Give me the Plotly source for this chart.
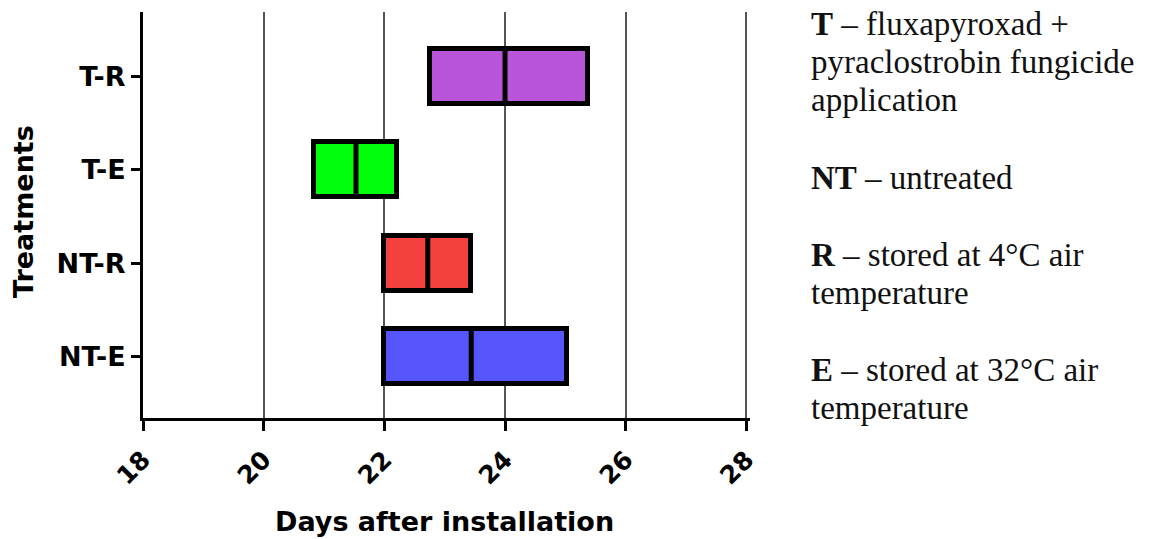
import plotly.graph_objects as go

# ---- data ----
treatments = ["NT-E", "NT-R", "T-E", "T-R"]          # bottom to top
start_day = [22.0, 22.0, 20.84, 22.75]
end_day = [25.02, 23.43, 22.21, 25.37]
median_day = [23.44, 22.72, 21.53, 24.0]
bar_colors = ["#5555F9", "#F64141", "#00FF0A", "#B955D8"]
x_ticks = [18, 20, 22, 24, 26, 28]
x_tick_labels = ["18", "20", "22", "24", "26", "28"]

notes = [
    ("<b>T</b> – fluxapyroxad +", 24),
    ("pyraclostrobin fungicide", 62),
    ("application", 100),
    ("<b>NT</b> – untreated", 178),
    ("<b>R</b> – stored at 4°C air", 255),
    ("temperature", 293),
    ("<b>E</b> – stored at 32°C air", 370),
    ("temperature", 408),
]

W, H = 1154, 539
L, R, T, B = 143, 404, 12, 539 - 418
PW, PH = W - L - R, H - T - B

def px_to_paper_x(px):
    return (px - L) / PW

def px_to_paper_y(py):
    return (H - B - py) / PH

sans = "DejaVu Sans"
fig = go.Figure()

fig.add_trace(go.Bar(
    y=treatments,
    x=[e - s for s, e in zip(start_day, end_day)],
    base=start_day,
    orientation="h",
    width=0.59,
    marker=dict(color=bar_colors, line=dict(color="black", width=5)),
    showlegend=False,
    hoverinfo="skip",
))

fig.add_trace(go.Scatter(
    y=treatments,
    x=median_day,
    mode="markers",
    marker=dict(symbol="line-ns", size=37, color="black",
                line=dict(color="black", width=5)),
    showlegend=False,
    hoverinfo="skip",
    cliponaxis=False,
))

fig.update_xaxes(
    range=[18, 28.06],
    tickmode="array", tickvals=x_ticks, ticktext=x_tick_labels,
    tickangle=-45,
    tickfont=dict(family=sans, size=25, color="black", weight="bold"),
    ticklabelstandoff=4,
    ticks="outside", ticklen=10, tickwidth=3, tickcolor="black",
    showline=True, linewidth=3, linecolor="black",
    showgrid=True, gridcolor="#555555", gridwidth=1.5,
    zeroline=False,
)
fig.update_yaxes(
    type="category",
    categoryorder="array", categoryarray=treatments,
    range=[-0.66, 3.69],
    tickfont=dict(family=sans, size=27, color="black", weight="bold"),
    ticks="outside", ticklen=9, tickwidth=3, tickcolor="black",
    showline=True, linewidth=3, linecolor="black",
    showgrid=False, zeroline=False,
)

annotations = []
annotations.append(dict(
    text="Days after installation", xref="paper", yref="paper",
    x=px_to_paper_x(444), y=px_to_paper_y(521), xanchor="center", yanchor="middle",
    showarrow=False, font=dict(family=sans, size=27, color="black", weight="bold"),
))
annotations.append(dict(
    text="Treatments", xref="paper", yref="paper", textangle=-90,
    x=px_to_paper_x(24), y=px_to_paper_y(212), xanchor="center", yanchor="middle",
    showarrow=False, font=dict(family=sans, size=27, color="black", weight="bold"),
))
for txt, py in notes:
    annotations.append(dict(
        text=txt, xref="paper", yref="paper",
        x=px_to_paper_x(809), y=px_to_paper_y(py), xanchor="left", yanchor="middle",
        showarrow=False, font=dict(family="Liberation Serif", size=33, color="#111111"),
    ))

fig.update_layout(
    width=W, height=H,
    margin=dict(l=L, r=R, t=T, b=B, autoexpand=False),
    plot_bgcolor="white", paper_bgcolor="white",
    annotations=annotations,
    bargap=0,
)

fig.write_html("out.html", config={"displayModeBar": False})
